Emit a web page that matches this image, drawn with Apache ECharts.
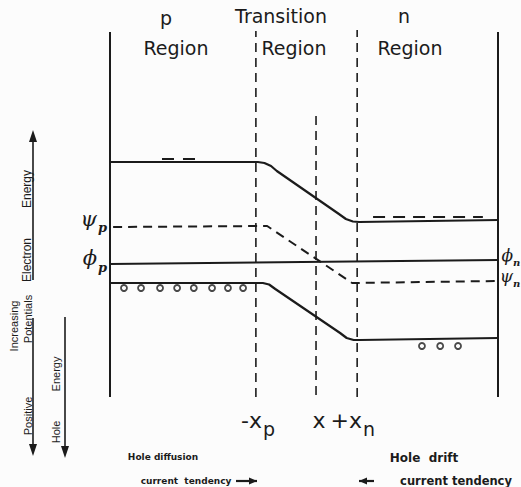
<!DOCTYPE html>
<html>
<head>
<meta charset="utf-8">
<script src="https://cdn.jsdelivr.net/npm/echarts@6/dist/echarts.min.js"></script>
<style>
  html, body { margin: 0; padding: 0; background: #fcfcfc; }
  #chart { width: 521px; height: 487px; }
</style>
</head>
<body>
<div id="chart"></div>
<script>
// Energy-band diagram of a p-n junction.
// Position runs 0..100 across the device, energy 0..37 (electron energy upward).

// Conduction band edge
const conductionX = [0, 38.1, 39.8, 41.5, 43.0, 59.0, 60.8, 62.6, 64.2, 100];
const conductionE = [23.8, 23.8, 23.7, 23.4, 22.9, 18.6, 18.1, 17.85, 17.8, 18.0];
// Valence band edge
const valenceX = [0, 39.4, 41.0, 42.6, 59.3, 61.0, 62.8, 64.4, 100];
const valenceE = [11.7, 11.7, 11.55, 11.1, 6.7, 6.2, 6.0, 6.0, 6.2];
// Electrostatic potential (psi), dashed
const intrinsicX = [0.8, 40.5, 62.4, 100];
const intrinsicE = [17.3, 17.4, 11.7, 11.9];
// Fermi level (phi)
const fermiX = [0, 100];
const fermiE = [13.6, 14.0];
// Electrons just above the conduction band
const electronsPX = [13.4, 22.4];
const electronsPE = 24.1;
const electronsNX = [67.8, 96.1];
const electronsNE = 18.3;
// Holes just below the valence band
const holesPX = [3.6, 8.0, 12.9, 17.3, 21.6, 26.3, 30.4, 34.3];
const holesPE = 11.2;
const holesNX = [80.4, 85.1, 89.7];
const holesNE = 5.4;
// Device edges and junction boundaries
const edgeX = [0, 100];
const edgeSpan = [0.3, 36.8];
const boundaryX = { xp: 37.6, x: 53.1, xn: 63.7 };
const boundarySpan = { xp: [0.3, 36.9], x: [0.5, 28.7], xn: [0.3, 37.0] };

const ink = '#1b1b1b';
const paper = '#fcfcfc';
const pairs = (xs, ys) => xs.map((x, i) => [x, Array.isArray(ys) ? ys[i] : ys]);

function line(data, opts) {
  return Object.assign({
    type: 'line', data: data, symbol: 'none', silent: true, animation: false,
    lineStyle: { color: ink, width: 2.2, join: 'round' }
  }, opts || {});
}

const series = [
  line(pairs(conductionX, conductionE)),
  line(pairs(valenceX, valenceE)),
  line(pairs(intrinsicX, intrinsicE), { lineStyle: { color: ink, width: 2, type: [9, 6] } }),
  line(pairs(fermiX, fermiE), { lineStyle: { color: ink, width: 2 } }),
  line(pairs(electronsPX, electronsPE), { lineStyle: { color: ink, width: 2, type: [12, 9] } }),
  line(pairs(electronsNX, electronsNE), { lineStyle: { color: ink, width: 2, type: [12, 8] } }),
  {
    type: 'scatter', silent: true, animation: false, symbol: 'circle', symbolSize: 6,
    data: pairs(holesPX, holesPE).concat(pairs(holesNX, holesNE)),
    itemStyle: { color: paper, borderColor: ink, borderWidth: 1.8 }
  }
];
edgeX.forEach(function (x) {
  series.push(line([[x, edgeSpan[0]], [x, edgeSpan[1]]], { lineStyle: { color: ink, width: 2 } }));
});
Object.keys(boundaryX).forEach(function (k) {
  const x = boundaryX[k];
  series.push(line([[x, boundarySpan[k][0]], [x, boundarySpan[k][1]]],
    { lineStyle: { color: ink, width: 1.6, type: [9, 6] } }));
});

const sans = '"DejaVu Sans", sans-serif';
const serif = '"DejaVu Serif", serif';
function txt(x, y, s, font, align) {
  return {
    type: 'text', x: x, y: y, silent: true,
    style: { text: s, fill: ink, font: font, align: align || 'center', verticalAlign: 'middle' }
  };
}
// vertical text reading bottom-to-top
function vtxt(x, y, s, size) {
  return {
    type: 'text', x: x, y: y, rotation: Math.PI / 2, silent: true,
    style: { text: s, fill: ink, font: size + 'px "Liberation Sans", sans-serif', align: 'center', verticalAlign: 'middle' }
  };
}
function arrowV(x, y1, y2) {
  const dir = y2 < y1 ? 1 : -1;
  return [
    { type: 'line', silent: true, shape: { x1: x, y1: y1, x2: x, y2: y2 + dir * 8 }, style: { stroke: ink, lineWidth: 1.6 } },
    { type: 'polygon', silent: true, shape: { points: [[x, y2], [x - 4, y2 + dir * 12], [x + 4, y2 + dir * 12]] }, style: { fill: ink } }
  ];
}
function arrowH(x1, x2, y) {
  const dir = x2 > x1 ? -1 : 1;
  return [
    { type: 'line', silent: true, shape: { x1: x1, y1: y, x2: x2, y2: y }, style: { stroke: ink, lineWidth: 2.2 } },
    { type: 'polygon', silent: true, shape: { points: [[x2, y], [x2 + dir * 8, y - 3.5], [x2 + dir * 8, y + 3.5]] }, style: { fill: ink } }
  ];
}
const heading = '19px ' + sans;
const greek = function (size) { return 'italic ' + size + 'px ' + serif; };
const sub = function (size) { return 'italic bold ' + size + 'px ' + serif; };

const graphics = [
  // region headings
  txt(166, 18, 'p', heading),
  txt(281, 16, 'Transition', heading),
  txt(404, 16, 'n', heading),
  txt(176, 48, 'Region', heading),
  txt(294, 48, 'Region', heading),
  txt(410, 48, 'Region', heading),
  // boundary labels
  txt(262, 420, '-x', '22px ' + sans, 'right'),
  txt(263, 429, 'p', '19px ' + sans, 'left'),
  txt(319, 420, 'x', '22px ' + sans),
  txt(362, 420, '+x', '22px ' + sans, 'right'),
  txt(363, 429, 'n', '19px ' + sans, 'left'),
  // level labels
  txt(97, 219, 'ψ', greek(21), 'right'),
  txt(98, 227, 'p', sub(13), 'left'),
  txt(97, 258, 'ϕ', greek(21), 'right'),
  txt(98, 267, 'p', sub(13), 'left'),
  txt(513, 255, 'ϕ', greek(17), 'right'),
  txt(513, 262, 'n', sub(10), 'left'),
  txt(513, 276, 'ψ', greek(17), 'right'),
  txt(513, 283, 'n', sub(10), 'left'),
  // left-hand energy directions
  vtxt(27, 189, 'Energy', 12),
  vtxt(27, 260, 'Electron', 12),
  vtxt(14, 326, 'Increasing', 11),
  vtxt(28, 319, 'Potentials', 11),
  vtxt(28, 416, 'Positive', 11),
  vtxt(56, 374, 'Energy', 11),
  vtxt(56, 432, 'Hole', 11),
  // current tendencies
  txt(163, 457, 'Hole diffusion', 'bold 9px ' + sans),
  txt(186, 481, 'current  tendency', 'bold 9px ' + sans),
  txt(424, 458, 'Hole  drift', 'bold 12px ' + sans),
  txt(456, 481, 'current tendency', 'bold 11.5px ' + sans)
]
  .concat(arrowV(33, 280, 130))
  .concat(arrowV(33, 318, 456))
  .concat(arrowV(65, 317, 458))
  .concat(arrowH(236, 257, 481))
  .concat(arrowH(374, 359, 481));

const chart = echarts.init(document.getElementById('chart'), null, { renderer: 'svg' });
chart.setOption({
  backgroundColor: paper,
  animation: false,
  grid: { left: 110, right: 23, top: 30, bottom: 87 },
  xAxis: { type: 'value', min: 0, max: 100, show: false },
  yAxis: { type: 'value', min: 0, max: 37, show: false },
  series: series,
  graphic: graphics
});
</script>
</body>
</html>
